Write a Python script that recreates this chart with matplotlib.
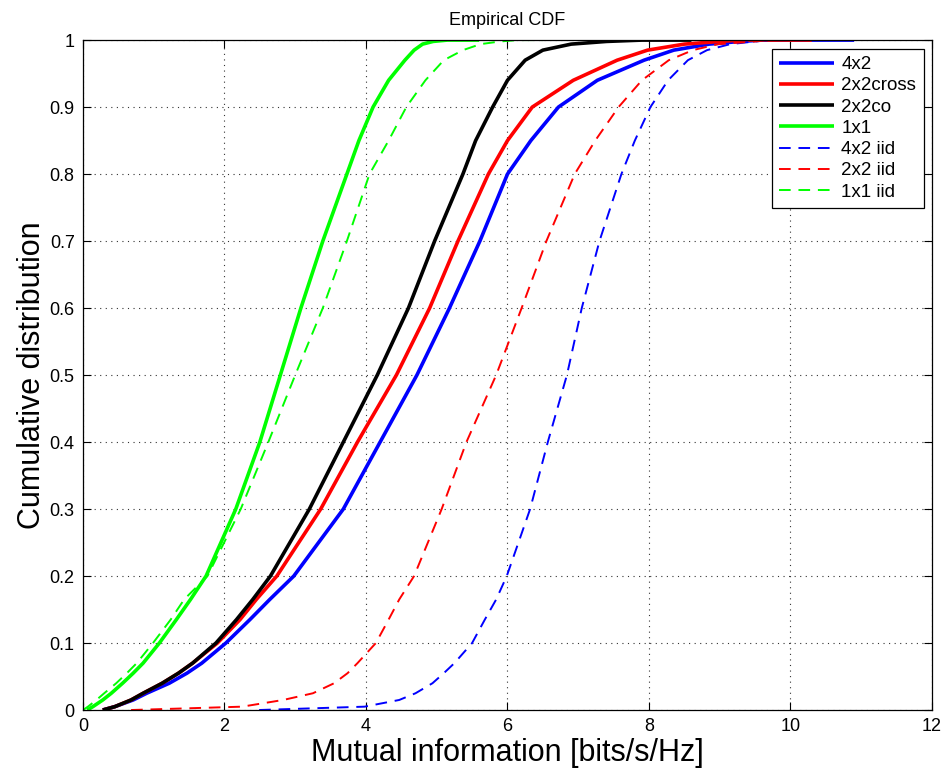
import numpy as np
import matplotlib
matplotlib.use("Agg")
import matplotlib.pyplot as plt

plt.rcParams["font.family"] = ["Liberation Sans", "DejaVu Sans"]

# cumulative probability levels shared by all curves (last = max sample)
cdf = [0, 0.005, 0.015, 0.025, 0.04, 0.055, 0.07, 0.1, 0.135, 0.165, 0.2,
       0.3, 0.4, 0.5, 0.6, 0.7, 0.8, 0.85, 0.9, 0.94, 0.97, 0.985, 0.994,
       0.998, 1.0, 1.0]

# mutual information [bits/s/Hz] at each level
mi_4x2 = [0.28, 0.45, 0.71, 0.9, 1.22, 1.47, 1.68, 2.02, 2.36, 2.64, 2.98,
          3.68, 4.2, 4.72, 5.18, 5.61, 6.0, 6.33, 6.72, 7.27, 7.93, 8.35,
          8.85, 9.29, 9.6, 10.9]
mi_2x2cross = [0.28, 0.45, 0.68, 0.85, 1.12, 1.35, 1.55, 1.9, 2.22, 2.45,
               2.74, 3.36, 3.88, 4.43, 4.9, 5.3, 5.73, 6.0, 6.35, 6.93, 7.55,
               7.98, 8.5, 9.0, 9.3, 10.3]
mi_2x2co = [0.28, 0.45, 0.68, 0.85, 1.12, 1.35, 1.55, 1.88, 2.17, 2.4, 2.65,
            3.2, 3.68, 4.16, 4.6, 4.97, 5.37, 5.55, 5.79, 6.0, 6.25, 6.5,
            6.9, 7.4, 7.9, 8.6]
mi_1x1 = [0.06, 0.14, 0.28, 0.4, 0.56, 0.71, 0.85, 1.08, 1.32, 1.52, 1.74,
          2.16, 2.5, 2.79, 3.08, 3.39, 3.73, 3.9, 4.1, 4.32, 4.55, 4.68,
          4.8, 4.95, 5.15, 5.6]
mi_4x2_iid = [2.49, 3.98, 4.47, 4.7, 4.94, 5.1, 5.25, 5.5, 5.68, 5.84, 5.99,
              6.32, 6.57, 6.84, 7.05, 7.3, 7.61, 7.8, 8.02, 8.27, 8.55, 8.82,
              9.15, 9.5, 9.7, 10.5]
mi_2x2_iid = [0.68, 2.25, 2.83, 3.25, 3.55, 3.74, 3.88, 4.14, 4.32, 4.47,
              4.68, 5.07, 5.42, 5.84, 6.2, 6.55, 6.95, 7.24, 7.57, 7.9, 8.28,
              8.62, 8.98, 9.5, 9.7, 10.0]
mi_1x1_iid = [0.0, 0.07, 0.19, 0.3, 0.47, 0.62, 0.76, 0.99, 1.24, 1.43, 1.76,
              2.23, 2.62, 3.0, 3.39, 3.73, 4.05, 4.32, 4.57, 4.84, 5.1, 5.37,
              5.62, 5.9, 6.15, 6.5]

fig = plt.figure(figsize=(9.46, 7.71), dpi=100)
ax = fig.add_axes([0.0877, 0.0791, 0.8975, 0.8689])

solid = dict(linewidth=2.6, solid_capstyle="butt", solid_joinstyle="round")
dashed = dict(linewidth=1.4, dashes=(6, 4))

ax.plot(mi_4x2, cdf, color="#0000ff", label="4x2", **solid)
ax.plot(mi_2x2cross, cdf, color="#ff0000", label="2x2cross", **solid)
ax.plot(mi_2x2co, cdf, color="#000000", label="2x2co", **solid)
ax.plot(mi_1x1, cdf, color="#00ff00", label="1x1", **solid)
ax.plot(mi_4x2_iid, cdf, color="#0000ff", label="4x2 iid", **dashed)
ax.plot(mi_2x2_iid, cdf, color="#ff0000", label="2x2 iid", **dashed)
ax.plot(mi_1x1_iid, cdf, color="#00ff00", label="1x1 iid", **dashed)

ax.set_xlim(0, 12)
ax.set_ylim(0, 1)
ax.set_xticks(np.arange(0, 13, 2))
ax.set_yticks(np.round(np.arange(0, 1.01, 0.1), 1))
ax.set_yticklabels(["0", "0.1", "0.2", "0.3", "0.4", "0.5", "0.6",
                    "0.7", "0.8", "0.9", "1"])
ax.tick_params(direction="in", length=6, width=0.8, labelsize=13,
               top=True, right=True, pad=6)
ax.grid(True, linestyle=(0, (1, 4)), color="#333333", linewidth=0.8)
for s in ax.spines.values():
    s.set_linewidth(0.9)

ax.set_title("Empirical CDF", fontsize=13, pad=11)
ax.set_xlabel("Mutual information [bits/s/Hz]", fontsize=22, labelpad=2)
ax.set_ylabel("Cumulative distribution", fontsize=22, labelpad=2)

leg = ax.legend(loc="upper right", fontsize=13.5, handlelength=2.9,
                handletextpad=0.4, labelspacing=0.22, borderaxespad=0.45,
                borderpad=0.4, fancybox=False, framealpha=1)
leg.get_frame().set_edgecolor("black")
leg.get_frame().set_linewidth(0.9)

fig.savefig("out.png", dpi=100)
